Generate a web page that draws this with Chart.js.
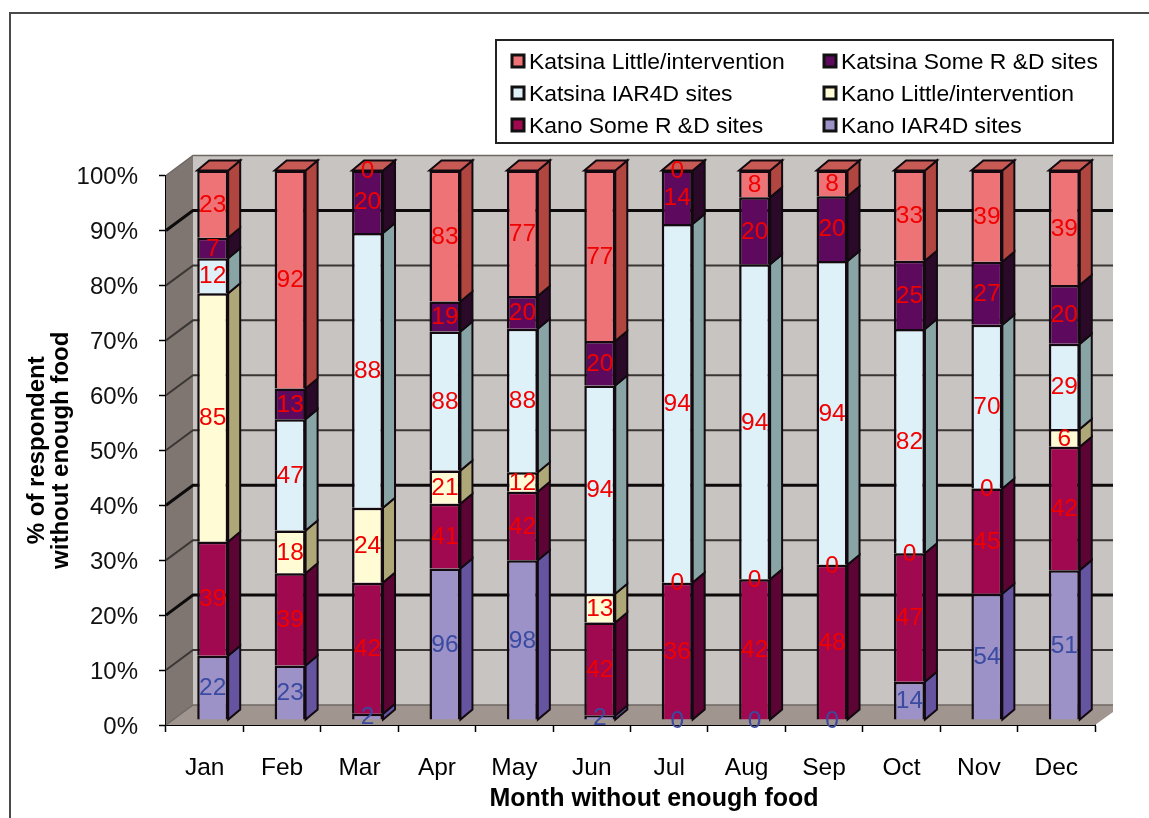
<!DOCTYPE html>
<html>
<head>
<meta charset="utf-8">
<title>Month without enough food</title>
<script src="https://cdn.jsdelivr.net/npm/chart.js@4"></script>
<style>
  html, body { margin: 0; padding: 0; background: #fff; overflow: hidden; }
  #frame { position: absolute; left: 9px; top: 12px; width: 1140px; height: 806px;
           border-left: 2px solid #4a4a4a; border-top: 2px solid #4a4a4a; box-sizing: border-box; }
  canvas { position: absolute; left: 0; top: 0; }
</style>
</head>
<body>
<div id="frame"></div>
<canvas id="chart" width="1149" height="818"></canvas>
<script>
const months = ["Jan", "Feb", "Mar", "Apr", "May", "Jun", "Jul", "Aug", "Sep", "Oct", "Nov", "Dec"];

// counts printed on the segments, bars are 100% stacked
const kanoIar4d = [22, 23, 2, 96, 98, 2, 0, 0, 0, 14, 54, 51];
const kanoSome = [39, 39, 42, 41, 42, 42, 36, 42, 48, 47, 45, 42];
const kanoLittle = [85, 18, 24, 21, 12, 13, 0, 0, 0, 0, 0, 6];
const katsinaIar4d = [12, 47, 88, 88, 88, 94, 94, 94, 94, 82, 70, 29];
const katsinaSome = [7, 13, 20, 19, 20, 20, 14, 20, 20, 25, 27, 20];
const katsinaLittle = [23, 92, 0, 83, 77, 77, 0, 8, 8, 33, 39, 39];

const seriesNames = ["Kano IAR4D sites", "Kano Some R &D sites", "Kano Little/intervention",
  "Katsina IAR4D sites", "Katsina Some R &D sites", "Katsina Little/intervention"];
const seriesValues = [kanoIar4d, kanoSome, kanoLittle, katsinaIar4d, katsinaSome, katsinaLittle];
const frontColors = ["#9c92c8", "#a0084f", "#fffbd5", "#def0f8", "#5d0a5e", "#ee7377"];
const sideColors = ["#6555a0", "#5c0433", "#aea878", "#88a4a4", "#2a0a28", "#b0463f"];
const labelColors = ["#3a4aa0", "#f00000", "#f00000", "#f00000", "#f00000", "#f00000"];
const topColor = "#c85a55";

const FONT = '"Liberation Sans", Arial, sans-serif';
const xTitle = "Month without enough food";
const totals = months.map((m, i) => seriesValues.reduce((sum, s) => sum + s[i], 0));

// 3D look: wall sits behind the axes, bars are pushed a little into the box
const wall = { dx: 27, dy: -20, clipRight: 1113 };
const barShift = { x: 8, y: -5 };
const barDepth = { x: 12, y: -10 };
const heavyGrid = [20, 40, 90];

function poly(ctx, pts, fill, stroke, lw) {
  ctx.beginPath();
  pts.forEach((p, i) => (i ? ctx.lineTo(p[0], p[1]) : ctx.moveTo(p[0], p[1])));
  ctx.closePath();
  if (fill) { ctx.fillStyle = fill; ctx.fill(); }
  if (stroke) { ctx.strokeStyle = stroke; ctx.lineWidth = lw || 1; ctx.stroke(); }
}

const boxPlugin = {
  id: "box",
  beforeDatasetsDraw(chart) {
    const { ctx, chartArea: a, scales: { y } } = chart;
    const backL = a.left + wall.dx, backR = wall.clipRight;
    const backT = y.getPixelForValue(100) + wall.dy, backB = y.getPixelForValue(0) + wall.dy;
    ctx.save();
    poly(ctx, [[backL, backT], [backR, backT], [backR, backB], [backL, backB]], "#c8c4c1");
    poly(ctx, [[a.left, a.top], [backL, backT], [backL, backB], [a.left, a.bottom]], "#7f7672");
    poly(ctx, [[a.left, a.bottom], [backL, backB], [backR, backB], [backR, a.bottom - (backR - a.right) * 0.72], [a.right, a.bottom]], "#a0958f");
    for (let v = 10; v < 100; v += 10) {
      const py = y.getPixelForValue(v);
      const heavy = heavyGrid.includes(v);
      ctx.strokeStyle = heavy ? "#0c0a0a" : "#3a3634";
      ctx.lineWidth = heavy ? 3 : 2;
      ctx.beginPath();
      ctx.moveTo(a.left, py);
      ctx.lineTo(backL, py + wall.dy);
      ctx.lineTo(backR, py + wall.dy);
      ctx.stroke();
    }
    ctx.strokeStyle = "#6e6864";
    ctx.lineWidth = 1.5;
    ctx.beginPath();
    ctx.moveTo(a.left, a.top);
    ctx.lineTo(backL, backT);
    ctx.lineTo(backR, backT);
    ctx.moveTo(a.left, a.bottom);
    ctx.lineTo(backL, backB);
    ctx.lineTo(backR, backB);
    ctx.stroke();
    ctx.restore();

    // side and top faces, then the library draws the fronts on the shifted context
    ctx.save();
    ctx.translate(barShift.x, barShift.y);
    const metas = chart.getSortedVisibleDatasetMetas();
    metas.forEach((meta, ds) => {
      meta.data.forEach((bar, i) => {
        const right = bar.x + bar.width / 2, left = bar.x - bar.width / 2;
        if (seriesValues[ds][i] > 0) {
          poly(ctx, [[right, bar.y], [right + barDepth.x, bar.y + barDepth.y],
            [right + barDepth.x, bar.base + barDepth.y], [right, bar.base]], sideColors[ds], "#120a10", 2);
        }
        if (ds === metas.length - 1) {
          poly(ctx, [[left, bar.y], [left + barDepth.x, bar.y + barDepth.y],
            [right + barDepth.x, bar.y + barDepth.y], [right, bar.y]], topColor, "#120a10", 2);
        }
      });
    });
  },
  afterDatasetsDraw(chart) {
    const { ctx } = chart;
    ctx.textAlign = "center";
    ctx.textBaseline = "middle";
    ctx.font = "24.5px " + FONT;
    chart.getSortedVisibleDatasetMetas().forEach((meta, ds) => {
      meta.data.forEach((bar, i) => {
        ctx.fillStyle = labelColors[ds];
        ctx.fillText(String(seriesValues[ds][i]), bar.x, (bar.y + bar.base) / 2 + 1);
      });
    });
    ctx.restore();
    drawLegend(chart);
    // the axis title sits off centre from the scale, so it is placed by hand
    ctx.save();
    ctx.font = "bold 25px " + FONT;
    ctx.fillStyle = "#000";
    ctx.textAlign = "center";
    ctx.textBaseline = "middle";
    ctx.fillText(xTitle, 654, 799);
    ctx.restore();
  }
};

function drawLegend(chart) {
  const { ctx } = chart;
  const box = { l: 496, t: 40, r: 1113, b: 143 };
  ctx.save();
  ctx.fillStyle = "#fff";
  ctx.strokeStyle = "#222";
  ctx.lineWidth = 2;
  ctx.fillRect(box.l, box.t, box.r - box.l, box.b - box.t);
  ctx.strokeRect(box.l, box.t, box.r - box.l, box.b - box.t);
  ctx.font = "22.9px " + FONT;
  ctx.textAlign = "left";
  ctx.textBaseline = "middle";
  const colX = [512, 824], rowY = [61, 93, 125];
  seriesNames.slice().reverse().forEach((name, k) => {
    const ds = seriesNames.length - 1 - k;
    const x = colX[k % 2], y = rowY[Math.floor(k / 2)];
    ctx.fillStyle = frontColors[ds];
    ctx.strokeStyle = "#111";
    ctx.lineWidth = 3;
    ctx.fillRect(x, y - 6, 12, 12);
    ctx.strokeRect(x, y - 6, 12, 12);
    ctx.fillStyle = "#000";
    ctx.fillText(name, x + 17, y + 2);
  });
  ctx.restore();
}

new Chart(document.getElementById("chart").getContext("2d"), {
  type: "bar",
  data: {
    labels: months,
    datasets: seriesNames.map((name, s) => ({
      label: name,
      data: seriesValues[s].map((v, i) => v / totals[i] * 100),
      backgroundColor: frontColors[s],
      borderColor: "#120a10",
      borderWidth: seriesValues[s].map(v => (v > 0 ? 2.5 : 0)),
      clip: false,
      categoryPercentage: 1,
      barPercentage: 0.4
    }))
  },
  options: {
    responsive: false,
    animation: false,
    layout: { padding: { top: 175.5, right: 54, left: 0, bottom: 0 } },
    plugins: { legend: { display: false }, tooltip: { enabled: false } },
    scales: {
      x: {
        stacked: true,
        afterFit: s => { s.height = 93; },
        border: { color: "#000", width: 2 },
        grid: { drawOnChartArea: false, color: "#000", tickLength: 7, tickWidth: 1.5 },
        ticks: { color: "#000", font: { family: FONT, size: 24.5 }, padding: 22, maxRotation: 0 }
      },
      y: {
        stacked: true,
        min: 0,
        max: 100,
        afterFit: s => { s.width = 166; },
        border: { color: "#000", width: 2 },
        grid: { drawOnChartArea: false, color: "#000", tickLength: 7, tickWidth: 1.5 },
        ticks: { stepSize: 10, color: "#111", font: { family: FONT, size: 24 }, padding: 21, labelOffset: 2, callback: v => v + "%" },
        title: { display: true, text: ["% of respondent", "without enough food"], color: "#000",
          font: { family: FONT, size: 24, weight: "bold", lineHeight: 1 }, padding: { top: 25, bottom: 0 } }
      }
    }
  },
  plugins: [boxPlugin]
});
</script>
</body>
</html>
